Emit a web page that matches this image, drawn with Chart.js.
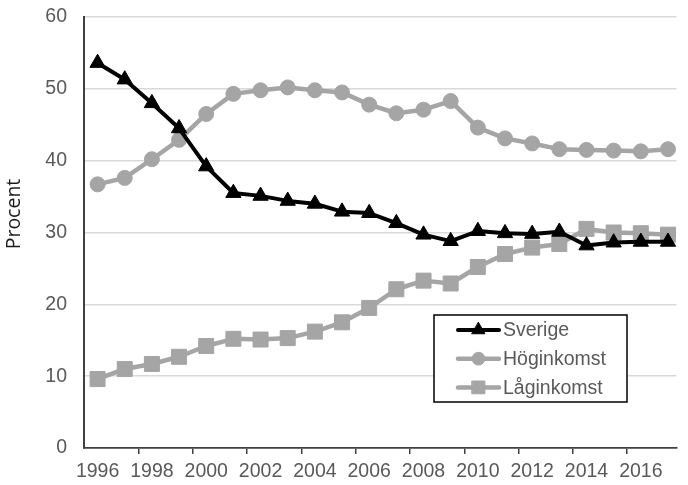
<!DOCTYPE html>
<html><head><meta charset="utf-8">
<script src="https://cdn.jsdelivr.net/npm/chart.js@4"></script>
<style>html,body{margin:0;padding:0;background:#fff;overflow:hidden}#wrap{width:688px;height:485px;position:relative}</style>
</head><body><div id="wrap"><canvas id="c" width="688" height="485"></canvas></div>
<script>
const years = [1996,1997,1998,1999,2000,2001,2002,2003,2004,2005,2006,2007,2008,2009,2010,2011,2012,2013,2014,2015,2016,2017];
const sverige    = [53.6,51.3,48.0,44.5,39.2,35.5,35.1,34.4,34.0,32.9,32.7,31.3,29.7,28.8,30.2,29.9,29.8,30.1,28.2,28.6,28.7,28.7];
const hoginkomst = [36.7,37.6,40.2,42.9,46.5,49.3,49.8,50.2,49.8,49.5,47.8,46.6,47.1,48.3,44.6,43.1,42.4,41.6,41.5,41.4,41.3,41.6];
const laginkomst = [9.6,11.0,11.7,12.7,14.2,15.2,15.1,15.3,16.2,17.5,19.5,22.1,23.3,22.9,25.2,27.0,27.9,28.4,30.5,30.0,29.9,29.7];
const seriesNames = ['Sverige','Höginkomst','Låginkomst'];
const xLabelYears = [1996,1998,2000,2002,2004,2006,2008,2010,2012,2014,2016];
const yTickValues = [0,10,20,30,40,50,60];
const yTitle = 'Procent';

const GRAY = '#a5a5a5';
const TICKFONT = {family:'"Liberation Sans", Arial, sans-serif', size:19.5};
const X_MIN = 1995.5, X_MAX = 2017.31;

function pts(vals){ return years.map((y,i)=>({x:y, y:vals[i]})); }

function drawMarker(ctx, style, x, y, r, color){
  ctx.fillStyle = color; ctx.strokeStyle = color; ctx.lineWidth = 1;
  ctx.beginPath();
  if (style === 'triangle'){
    const h = r*0.866;
    ctx.moveTo(x, y - r);
    ctx.lineTo(x + h, y + r/2);
    ctx.lineTo(x - h, y + r/2);
    ctx.closePath();
  } else if (style === 'rect'){
    const s = r*Math.SQRT1_2;
    ctx.rect(x - s, y - s, 2*s, 2*s);
  } else {
    ctx.arc(x, y, r, 0, Math.PI*2);
  }
  ctx.fill(); ctx.stroke();
}

const boxLegend = {
  id:'boxLegend',
  afterDraw(chart){
    const ctx = chart.ctx;
    const x0 = 434, y0 = 315, w = 193, h = 87;
    ctx.save();
    ctx.fillStyle = '#fff'; ctx.fillRect(x0, y0, w, h);
    ctx.strokeStyle = '#000'; ctx.lineWidth = 1.5; ctx.strokeRect(x0, y0, w, h);
    chart.data.datasets.forEach((d, i) => {
      const cy = y0 + 15 + i*28.7;
      ctx.strokeStyle = d.borderColor; ctx.lineWidth = d.borderWidth; ctx.lineCap = 'round';
      ctx.beginPath(); ctx.moveTo(458, cy); ctx.lineTo(499, cy); ctx.stroke();
      drawMarker(ctx, d.pointStyle, 478.5, cy, d.pointRadius*0.85, d.pointBackgroundColor);
      ctx.fillStyle = '#595959';
      ctx.font = '19.5px "Liberation Sans", Arial, sans-serif';
      ctx.textBaseline = 'middle'; ctx.textAlign = 'left';
      ctx.fillText(d.label, 503, cy + 1);
    });
    ctx.restore();
  }
};

const yTitlePlugin = {
  id:'yTitlePlugin',
  afterDraw(chart){
    const ctx = chart.ctx;
    ctx.save();
    ctx.translate(14, 214);
    ctx.rotate(-Math.PI/2);
    ctx.fillStyle = '#1a1a1a';
    ctx.font = '19.5px "Open Sans", "Noto Sans", sans-serif';
    ctx.textAlign = 'center'; ctx.textBaseline = 'middle';
    ctx.fillText(yTitle, 0, 0);
    ctx.restore();
  }
};

const common = {fill:false, tension:0, borderJoinStyle:'round', borderCapStyle:'round', pointBorderWidth:1, clip:false};

new Chart(document.getElementById('c'), {
  type:'line',
  data:{
    datasets:[
      Object.assign({label:seriesNames[0], data:pts(sverige), borderColor:'#000', backgroundColor:'#000',
        pointBackgroundColor:'#000', pointBorderColor:'#000', borderWidth:4, pointStyle:'triangle', pointRadius:8.8}, common),
      Object.assign({label:seriesNames[1], data:pts(hoginkomst), borderColor:GRAY, backgroundColor:GRAY,
        pointBackgroundColor:GRAY, pointBorderColor:GRAY, borderWidth:4.5, pointStyle:'circle', pointRadius:7.5}, common),
      Object.assign({label:seriesNames[2], data:pts(laginkomst), borderColor:GRAY, backgroundColor:GRAY,
        pointBackgroundColor:GRAY, pointBorderColor:GRAY, borderWidth:4.5, pointStyle:'rect', pointRadius:10.6}, common)
    ]
  },
  options:{
    responsive:false, animation:false, devicePixelRatio:1,
    layout:{padding:{top:17, right:0, bottom:0, left:0}},
    plugins:{legend:{display:false}, tooltip:{enabled:false}, title:{display:false}},
    scales:{
      x:{
        type:'linear', min:X_MIN, max:X_MAX,
        afterBuildTicks(scale){
          const t = [];
          xLabelYears.forEach(y => { t.push({value:y}); if (y + 1.5 < X_MAX) t.push({value:y + 1.5}); });
          scale.ticks = t;
        },
        afterFit(scale){ scale.height = 37; scale.paddingLeft = 0; scale.paddingRight = 0; scale.paddingTop = 0; scale.paddingBottom = 0; },
        ticks:{
          autoSkip:false, maxRotation:0, minRotation:0, padding:6, color:'#595959', font:TICKFONT,
          callback(v){ return Number.isInteger(v) ? String(v) : ''; }
        },
        grid:{
          drawOnChartArea:false, drawTicks:true, tickLength:6, lineWidth:1.5,
          color(ctx){ return (ctx.tick && !Number.isInteger(ctx.tick.value)) ? '#404040' : 'rgba(0,0,0,0)'; }
        },
        border:{display:true, color:'#404040', width:1.8}
      },
      y:{
        min:0, max:60,
        afterBuildTicks(scale){ scale.ticks = yTickValues.map(v => ({value:v})); },
        afterFit(scale){ scale.width = 84; scale.paddingTop = 0; scale.paddingBottom = 0; scale.paddingLeft = 0; scale.paddingRight = 0; },
        ticks:{padding:17, color:'#595959', font:TICKFONT},
        grid:{
          drawTicks:false, lineWidth:1.5,
          color(ctx){ return (ctx.tick && ctx.tick.value === 0) ? 'rgba(0,0,0,0)' : '#d9d9d9'; }
        },
        border:{display:true, color:'#404040', width:2}
      }
    }
  },
  plugins:[boxLegend, yTitlePlugin]
});
</script>
</body></html>
